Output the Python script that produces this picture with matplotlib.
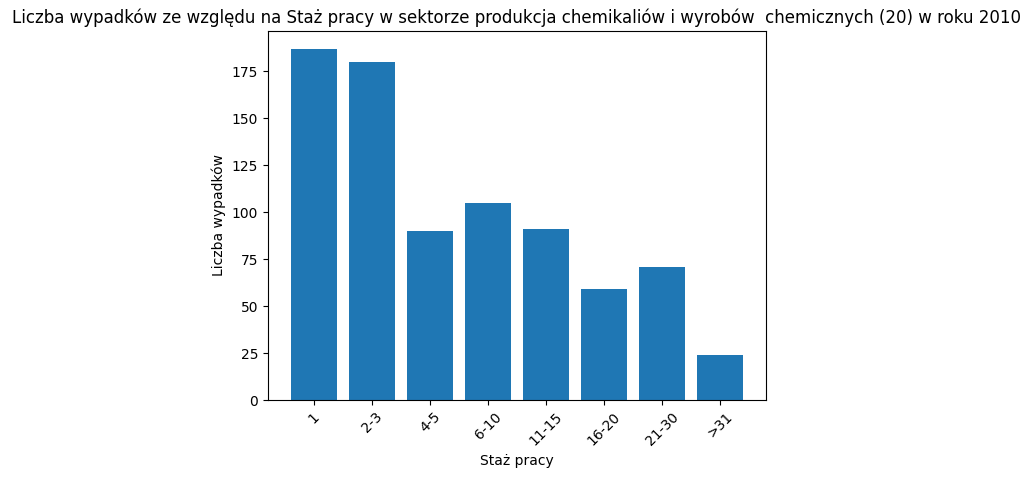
import matplotlib
matplotlib.use("Agg")
import matplotlib.pyplot as plt

kategorie = ["1", "2-3", "4-5", "6-10", "11-15", "16-20", "21-30", ">31"]
wypadki = [187, 180, 90, 105, 91, 59, 71, 24]

fig = plt.figure(figsize=(10.35, 4.78), dpi=100)
ax = fig.add_axes([268/1035, 78/478, 498/1035, 369/478])
ax.bar(kategorie, wypadki, color="#1f77b4")
ax.set_title("Liczba wypadków ze względu na Staż pracy w sektorze produkcja chemikaliów i wyrobów  chemicznych (20) w roku 2010")
ax.set_xlabel("Staż pracy")
ax.set_ylabel("Liczba wypadków")
plt.xticks(rotation=45)
fig.savefig("out.png", dpi=100)
